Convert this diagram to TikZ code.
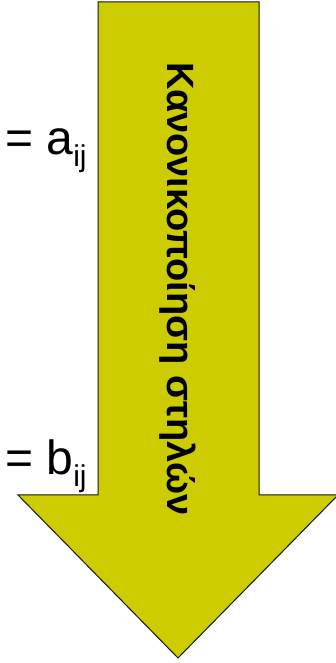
\documentclass[tikz,border=0pt]{standalone}
\usepackage{fontspec}
\setmainfont{Liberation Sans}
\usepackage{tikz}
\usetikzlibrary{positioning, calc}
\definecolor{arrowyellow}{RGB}{204, 204,   0}
\definecolor{edgeblack}{RGB}{20,  20,  20}

\begin{document}
\begin{tikzpicture}[x=1pt, y=1pt,
  bigarrow/.style={fill=arrowyellow, draw=edgeblack, line width=1pt, line join=miter},
  vlabel/.style={font=\fontsize{38}{38}\selectfont\bfseries, rotate=-90, inner sep=0pt},
  eqlabel/.style={font=\fontsize{48}{48}\selectfont, anchor=base west, inner sep=0pt}
]
  \useasboundingbox (0,0) rectangle (336,663);

  % the big downward arrow
  \draw[bigarrow] (98,661) -- (259,661) -- (259,168) -- (338,168)
                  -- (178,5) -- (18,168) -- (98,168) -- cycle;
  \node[vlabel] (norm) at (178,374) {Κανονικοποίηση στηλών};

  % entries on the left
  \node[eqlabel] (aij) at (5,508) {= a\raisebox{-12pt}{\fontsize{30}{30}\selectfont ij}};
  \node[eqlabel] (bij) at (5,188) {= b\raisebox{-12pt}{\fontsize{30}{30}\selectfont ij}};
\end{tikzpicture}
\end{document}
